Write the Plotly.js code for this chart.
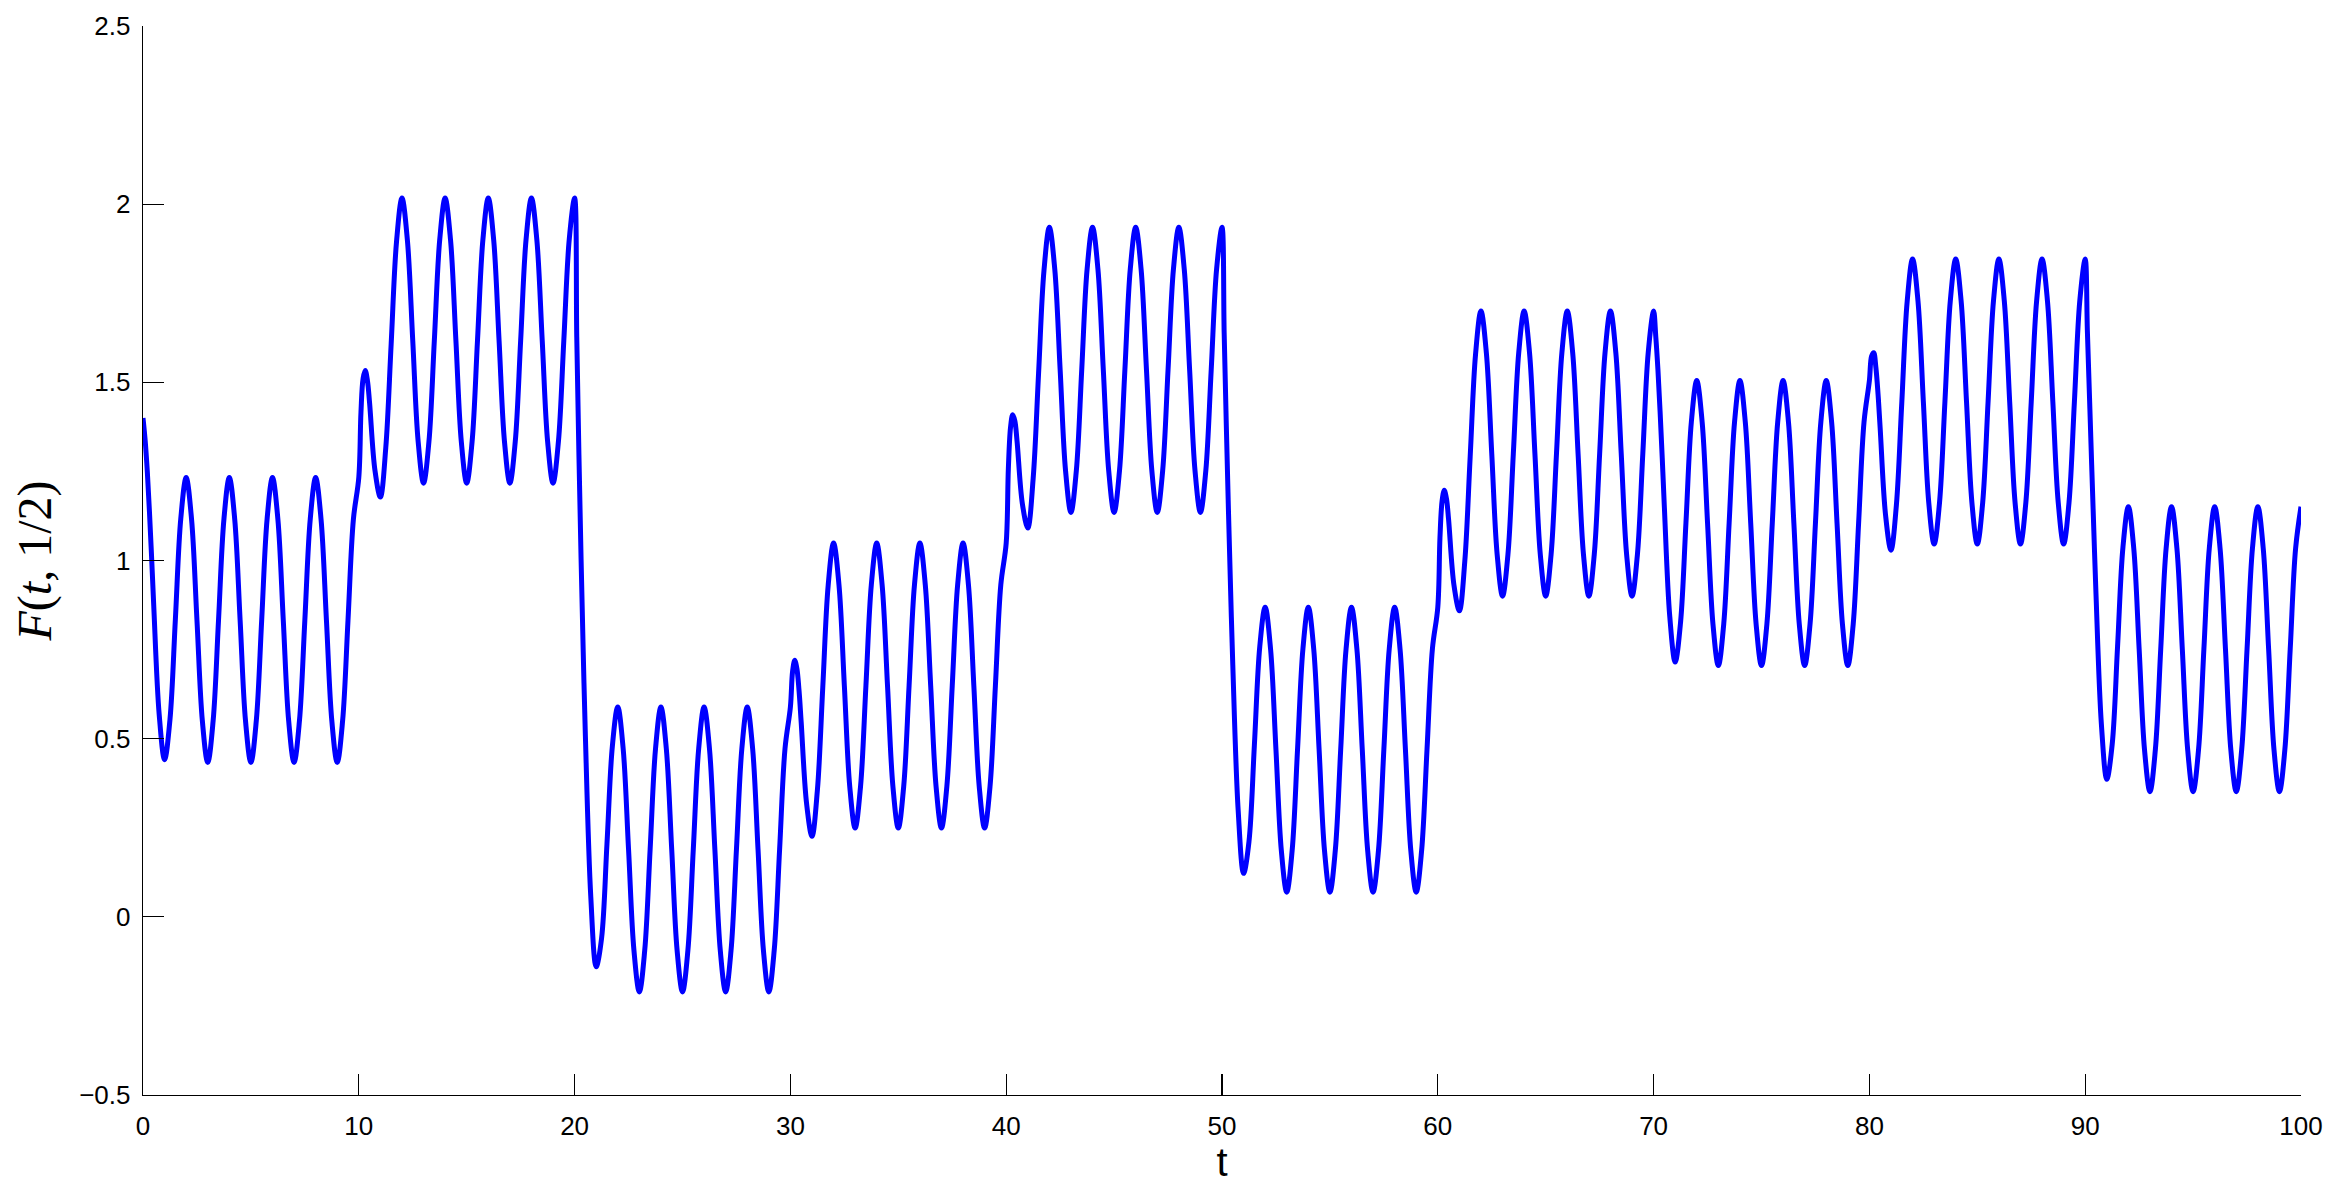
<!DOCTYPE html>
<html>
<head>
<meta charset="utf-8">
<script src="https://cdn.plot.ly/plotly-3.0.1.min.js"></script>
<style>
  html, body { margin: 0; padding: 0; background: #ffffff; }
  #chart { width: 2338px; height: 1199px; }
</style>
</head>
<body>
<div id="chart"></div>
<script>
// t samples, one row per 10-unit stretch
const tValues = [
  0,0.1,0.2,0.3,0.4,0.5,0.75,1,1.25,1.5,1.75,2,2.25,2.5,2.75,3,3.25,3.5,3.75,4,4.25,4.5,4.75,5,5.25,5.5,5.75,6,6.25,6.5,6.75,7,7.25,7.5,7.75,8,8.25,8.5,8.75,9,9.25,9.5,9.75,
  10,10.1,10.2,10.3,10.4,10.5,10.75,11,11.25,11.5,11.75,12,12.25,12.5,12.75,13,13.25,13.5,13.75,14,14.25,14.5,14.75,15,15.25,15.5,15.75,16,16.25,16.5,16.75,17,17.25,17.5,17.75,18,18.25,18.5,18.75,19,19.25,19.5,19.75,
  20,20.1,20.2,20.3,20.4,20.5,20.75,21,21.25,21.5,21.75,22,22.25,22.5,22.75,23,23.25,23.5,23.75,24,24.25,24.5,24.75,25,25.25,25.5,25.75,26,26.25,26.5,26.75,27,27.25,27.5,27.75,28,28.25,28.5,28.75,29,29.25,29.5,29.75,
  30,30.1,30.2,30.3,30.4,30.5,30.75,31,31.25,31.5,31.75,32,32.25,32.5,32.75,33,33.25,33.5,33.75,34,34.25,34.5,34.75,35,35.25,35.5,35.75,36,36.25,36.5,36.75,37,37.25,37.5,37.75,38,38.25,38.5,38.75,39,39.25,39.5,39.75,
  40,40.1,40.2,40.3,40.4,40.5,40.75,41,41.25,41.5,41.75,42,42.25,42.5,42.75,43,43.25,43.5,43.75,44,44.25,44.5,44.75,45,45.25,45.5,45.75,46,46.25,46.5,46.75,47,47.25,47.5,47.75,48,48.25,48.5,48.75,49,49.25,49.5,49.75,
  50,50.1,50.2,50.3,50.4,50.5,50.75,51,51.25,51.5,51.75,52,52.25,52.5,52.75,53,53.25,53.5,53.75,54,54.25,54.5,54.75,55,55.25,55.5,55.75,56,56.25,56.5,56.75,57,57.25,57.5,57.75,58,58.25,58.5,58.75,59,59.25,59.5,59.75,
  60,60.1,60.2,60.3,60.4,60.5,60.75,61,61.25,61.5,61.75,62,62.25,62.5,62.75,63,63.25,63.5,63.75,64,64.25,64.5,64.75,65,65.25,65.5,65.75,66,66.25,66.5,66.75,67,67.25,67.5,67.75,68,68.25,68.5,68.75,69,69.25,69.5,69.75,
  70,70.1,70.2,70.3,70.4,70.5,70.75,71,71.25,71.5,71.75,72,72.25,72.5,72.75,73,73.25,73.5,73.75,74,74.25,74.5,74.75,75,75.25,75.5,75.75,76,76.25,76.5,76.75,77,77.25,77.5,77.75,78,78.25,78.5,78.75,79,79.25,79.5,79.75,
  80,80.1,80.2,80.3,80.4,80.5,80.75,81,81.25,81.5,81.75,82,82.25,82.5,82.75,83,83.25,83.5,83.75,84,84.25,84.5,84.75,85,85.25,85.5,85.75,86,86.25,86.5,86.75,87,87.25,87.5,87.75,88,88.25,88.5,88.75,89,89.25,89.5,89.75,
  90,90.1,90.2,90.3,90.4,90.5,90.75,91,91.25,91.5,91.75,92,92.25,92.5,92.75,93,93.25,93.5,93.75,94,94.25,94.5,94.75,95,95.25,95.5,95.75,96,96.25,96.5,96.75,97,97.25,97.5,97.75,98,98.25,98.5,98.75,99,99.25,99.5,99.75,
  100
];

// F(t, 1/2) values, same rows as tValues
const fValues = [
  1.400,1.337,1.249,1.136,1.007,0.870,0.568,0.441,0.554,0.835,1.117, 1.233,1.116,0.833,0.550,0.433,0.550,0.833,1.116, 1.233,1.116,0.833,0.550,0.433,0.550,0.833,1.116, 1.233,1.116,0.833,0.550,0.433,0.550,0.833,1.116, 1.233,1.116,0.833,0.550,0.433,0.550,0.833,1.116,
  1.233,1.416,1.511,1.533,1.505,1.442,1.252,1.178,1.316,1.608,1.896, 2.017,1.900,1.617,1.334,1.217,1.334,1.617,1.900, 2.017,1.900,1.617,1.334,1.217,1.334,1.617,1.900, 2.017,1.900,1.617,1.334,1.217,1.334,1.617,1.900, 2.017,1.900,1.617,1.334,1.217,1.334,1.617,1.900,
  2.017,1.627,1.297,1.005,0.743,0.507,0.056,-0.140,-0.060,0.205,0.479, 0.589,0.472,0.189,-0.094,-0.211,-0.094,0.189,0.472, 0.589,0.472,0.189,-0.094,-0.211,-0.094,0.189,0.472, 0.589,0.472,0.189,-0.094,-0.211,-0.094,0.189,0.472, 0.589,0.472,0.189,-0.094,-0.211,-0.094,0.189,0.472,
  0.589,0.688,0.720,0.697,0.635,0.546,0.318,0.226,0.355,0.644,0.930, 1.049,0.932,0.649,0.366,0.249,0.366,0.649,0.932, 1.049,0.932,0.649,0.366,0.249,0.366,0.649,0.932, 1.049,0.932,0.649,0.366,0.249,0.366,0.649,0.932, 1.049,0.932,0.649,0.366,0.249,0.366,0.649,0.932,
  1.049,1.258,1.373,1.409,1.392,1.337,1.159,1.091,1.231,1.525,1.813, 1.935,1.818,1.535,1.252,1.135,1.252,1.535,1.818, 1.935,1.818,1.535,1.252,1.135,1.252,1.535,1.818, 1.935,1.818,1.535,1.252,1.135,1.252,1.535,1.818, 1.935,1.818,1.535,1.252,1.135,1.252,1.535,1.818,
  1.935,1.639,1.378,1.138,0.914,0.707,0.298,0.122,0.211,0.481,0.758, 0.869,0.752,0.469,0.186,0.069,0.186,0.469,0.752, 0.869,0.752,0.469,0.186,0.069,0.186,0.469,0.752, 0.869,0.752,0.469,0.186,0.069,0.186,0.469,0.752, 0.869,0.752,0.469,0.186,0.069,0.186,0.469,0.752,
  0.869,1.064,1.168,1.197,1.174,1.115,0.930,0.859,0.997,1.291,1.579, 1.700,1.583,1.300,1.017,0.900,1.017,1.300,1.583, 1.700,1.583,1.300,1.017,0.900,1.017,1.300,1.583, 1.700,1.583,1.300,1.017,0.900,1.017,1.300,1.583, 1.700,1.583,1.300,1.017,0.900,1.017,1.300,1.583,
  1.700,1.629,1.536,1.419,1.288,1.148,0.842,0.715,0.827,1.107,1.389, 1.505,1.388,1.105,0.822,0.705,0.822,1.105,1.388, 1.505,1.388,1.105,0.822,0.705,0.822,1.105,1.388, 1.505,1.388,1.105,0.822,0.705,0.822,1.105,1.388, 1.505,1.388,1.105,0.822,0.705,0.822,1.105,1.388,
  1.505,1.573,1.583,1.542,1.467,1.370,1.127,1.029,1.155,1.442,1.727, 1.846,1.729,1.446,1.163,1.046,1.163,1.446,1.729, 1.846,1.729,1.446,1.163,1.046,1.163,1.446,1.729, 1.846,1.729,1.446,1.163,1.046,1.163,1.446,1.729, 1.846,1.729,1.446,1.163,1.046,1.163,1.446,1.729,
  1.846,1.646,1.457,1.269,1.084,0.906,0.541,0.386,0.484,0.759,1.038, 1.151,1.034,0.751,0.468,0.351,0.468,0.751,1.034, 1.151,1.034,0.751,0.468,0.351,0.468,0.751,1.034, 1.151,1.034,0.751,0.468,0.351,0.468,0.751,1.034, 1.151,1.034,0.751,0.468,0.351,0.468,0.751,1.034,
  1.151
];

const xTicks = [0, 10, 20, 30, 40, 50, 60, 70, 80, 90, 100];
const yTicks = [-0.5, 0, 0.5, 1, 1.5, 2, 2.5];
const yTickText = ['\u22120.5', '0', '0.5', '1', '1.5', '2', '2.5'];

const trace = {
  x: tValues,
  y: fValues,
  type: 'scatter',
  mode: 'lines',
  line: { color: '#0000ff', width: 5, shape: 'spline', smoothing: 1 },
  hoverinfo: 'skip'
};

const tickFont = { family: '"Liberation Sans", Arial, sans-serif', size: 26, color: '#000000' };

const layout = {
  width: 2338,
  height: 1199,
  margin: { l: 143, r: 37, t: 26, b: 104, pad: 0 },
  paper_bgcolor: '#ffffff',
  plot_bgcolor: '#ffffff',
  showlegend: false,
  xaxis: {
    range: [0, 100],
    tickmode: 'array',
    tickvals: xTicks,
    ticks: 'inside',
    ticklen: 21,
    tickwidth: 1.3,
    tickcolor: '#000000',
    showline: true,
    linecolor: '#000000',
    linewidth: 1.3,
    mirror: false,
    showgrid: false,
    zeroline: false,
    tickfont: tickFont,
    ticklabelstandoff: 7,
    title: { text: 't', font: { family: '"Liberation Sans", Arial, sans-serif', size: 40, color: '#000000' }, standoff: 8 }
  },
  yaxis: {
    range: [-0.5, 2.5],
    tickmode: 'array',
    tickvals: yTicks,
    ticktext: yTickText,
    ticks: 'inside',
    ticklen: 21,
    tickwidth: 1.3,
    tickcolor: '#000000',
    showline: true,
    linecolor: '#000000',
    linewidth: 1.3,
    mirror: false,
    showgrid: false,
    zeroline: false,
    tickfont: tickFont,
    ticklabelstandoff: 6,
    title: { text: '<i>F</i>(<i>t</i>, 1/2)', font: { family: '"Liberation Serif", "Times New Roman", serif', size: 48, color: '#000000' }, standoff: 12 }
  }
};

Plotly.newPlot('chart', [trace], layout, { displayModeBar: false, staticPlot: true });
</script>
</body>
</html>
